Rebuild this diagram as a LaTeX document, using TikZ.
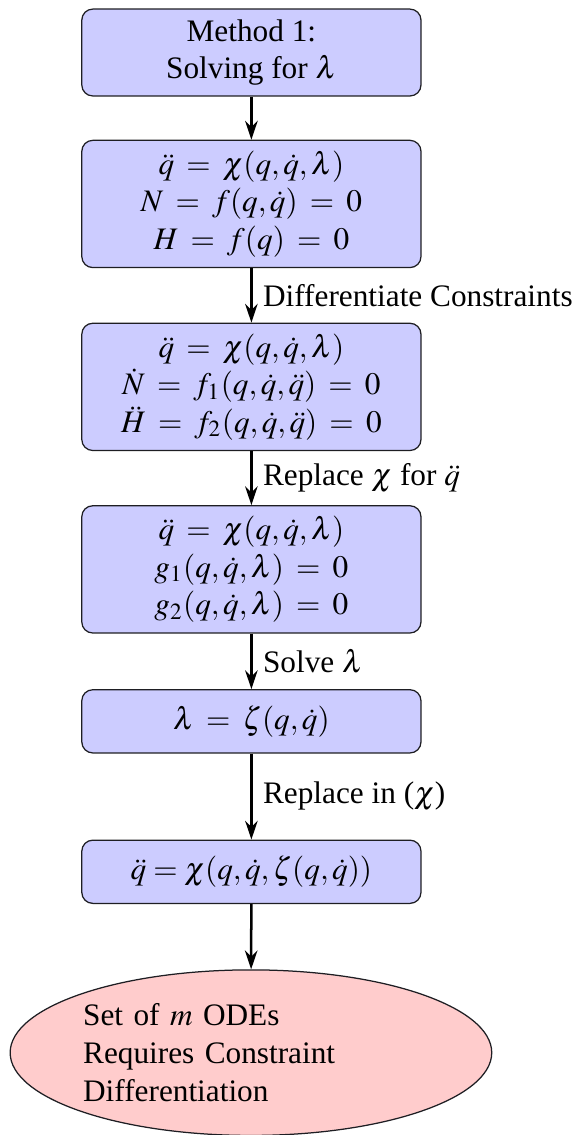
\documentclass[tikz,border=0pt]{standalone}
\usepackage{mathptmx}
\usepackage[no-math]{fontspec}
\setmainfont{Liberation Serif}
\usetikzlibrary{arrows.meta,positioning,shapes.geometric}
\definecolor{boxfill}{RGB}{204,204,255}
\definecolor{endfill}{RGB}{255,204,204}
\definecolor{ink}{RGB}{30,30,35}

\begin{document}
\begin{tikzpicture}[
    procbox/.style={draw=ink,fill=boxfill,rounded corners=3.5pt,minimum width=3.81cm,minimum height=0.71cm,align=center},
    eqbox/.style={procbox,execute at begin node={\thickmuskip=7mu plus 5mu}},
    outcome/.style={ellipse,draw=ink,fill=endfill,minimum width=5.41cm,minimum height=1.86cm,inner sep=0pt,text width=3.77cm,align=left},
    flow/.style={thick,-{Stealth[length=6pt,width=4pt]}}]
        \useasboundingbox (0,0) rectangle (6.536,-12.75);
        \node[procbox] (method) at (2.824,-0.590) {Method 1:\\ Solving for $\lambda$};
        \node[eqbox] (model) at (2.824,-2.291) {$\ddot{q} = \chi(q,\dot{q},\lambda)$\\ $N = f(q,\dot{q}) = 0$\\ $H = f(q) = 0$};
        \node[eqbox] (diffed) at (2.824,-4.346) {$\ddot{q} = \chi(q,\dot{q},\lambda)$\\ $\dot{N} = f_1(q,\dot{q},\ddot{q}) = 0$\\ $\ddot{H} = f_2(q,\dot{q},\ddot{q}) = 0$};
        \node[eqbox] (reduced) at (2.824,-6.396) {$\ddot{q} = \chi(q,\dot{q},\lambda)$\\ $g_1(q,\dot{q},\lambda) = 0$\\ $g_2(q,\dot{q},\lambda) = 0$};
        \node[eqbox] (multiplier) at (2.824,-8.103) {$\lambda = \zeta(q,\dot{q})$};
        \node[procbox] (odes) at (2.824,-9.793) {$\ddot{q} = \chi(q,\dot{q},\zeta(q,\dot{q}))$};
        \node[outcome] (result) at (2.819,-11.825) {Set of $m$ ODEs\\ Requires Constraint\\ Differentiation};
        \draw[flow] (method) -- (model);
        \draw[flow] (model) -- node[right] {Differentiate Constraints} (diffed);
        \draw[flow] (diffed) -- node[right] {Replace $\chi$ for $\ddot{q}$} (reduced);
        \draw[flow] (reduced) -- node[right] {Solve $\lambda$} (multiplier);
        \draw[flow] (multiplier) -- node[right] {Replace in ($\chi$)} (odes);
        \draw[flow] (odes) -- (result);
      \end{tikzpicture}
\end{document}
